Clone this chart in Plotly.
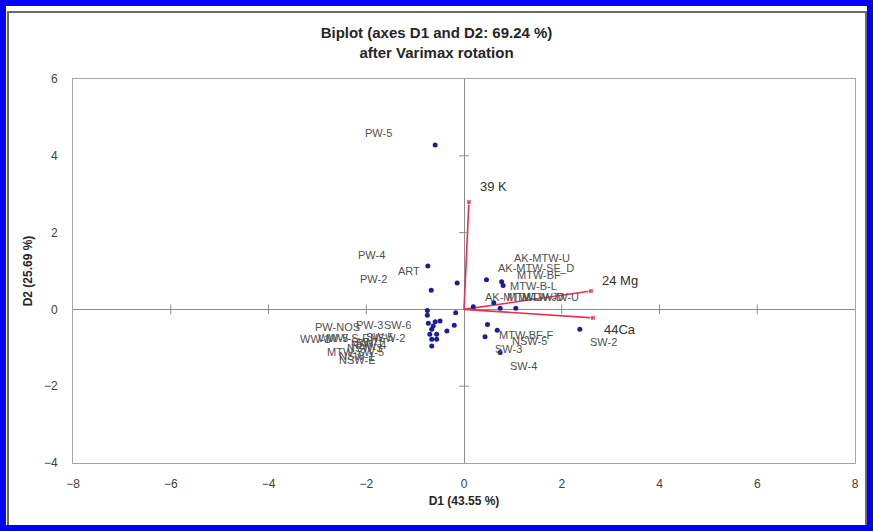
import plotly.graph_objects as go

# ---------------- data ----------------
obs_names = ["PW-5", "PW-4", "ART", "PW-2",
             "PW-3", "PW-NOS", "SW-6", "WW-1", "WW-S-E", "NSW-2", "WW-5", "SW-5",
             "NSW-4", "SW-1", "MTW-SW-5", "NSW-3", "NSW-E", "SW-7", "NSW-1",
             "AK-MTW-SF_D", "MTW-BF", "MTW-B-L", "AK-MTW-L", "MTW-JW-D", "MTW-JW-U", "AK-MTW-U",
             "MTW-BF-F", "NSW-5", "SW-3", "SW-4", "SW-2"]
obs_d1 = [-0.59, -0.74, -0.14, -0.67,
          -0.75, -0.75, -0.17, -0.73, -0.59, -0.49, -0.63, -0.20,
          -0.66, -0.35, -0.56, -0.70, -0.66, -0.56, -0.66,
          0.46, 0.77, 0.80, 0.19, 0.74, 1.06, 0.61,
          0.48, 0.68, 0.43, 0.74, 2.37]
obs_d2 = [4.28, 1.13, 0.69, 0.50,
          -0.03, -0.15, -0.09, -0.36, -0.32, -0.30, -0.43, -0.41,
          -0.52, -0.56, -0.65, -0.65, -0.78, -0.78, -0.95,
          0.77, 0.72, 0.62, 0.07, 0.03, 0.03, 0.17,
          -0.39, -0.54, -0.71, -1.12, -0.52]

var_names = ["39 K", "24 Mg", "44Ca"]
var_d1 = [0.10, 2.60, 2.64]
var_d2 = [2.80, 0.48, -0.22]

x_ticks = [-8, -6, -4, -2, 0, 2, 4, 6, 8]
y_ticks = [-4, -2, 0, 2, 4, 6]

# ---------------- label placement (style, pixels) ----------------
obs_anchor = ["right"] * 19 + ["left"] * 12
obs_dx = [-41, -41, -35, -42,
          -42, -65, -43, -96, -63, -33, -83, -59,
          -44, -62, -51, -46, -55, -57, -56,
          10, 13, 5, 10, 5, 4, 18,
          10, 13, 8, 8, 8]
obs_dy = [-12, -11, -12, -11,
          14, 12, 12, 16, 16, 17, 12, 12,
          16, 12, 18, 14, 21, 3, 10,
          -12, -7, 0, -10, -11, -11, -45,
          11, 11, 12, 14, 13]
var_dx = [9, 9, 9]
var_dy = [-15, -10, 12]

FONT = "Liberation Sans Narrow, Liberation Sans, Arial, sans-serif"
RED = "#e8304a"
PT = "#1c1c9c"

fig = go.Figure()

# variable vectors
for n, x, y in zip(var_names, var_d1, var_d2):
    fig.add_trace(go.Scatter(x=[0, x], y=[0, y], mode="lines+markers",
                             line=dict(color=RED, width=1.6),
                             marker=dict(color=RED, size=[0, 5], symbol="square"),
                             hoverinfo="skip", showlegend=False))

# tick marks on the zero lines
fig.add_trace(go.Scatter(x=[t for t in x_ticks if t not in (-8, 0, 8)],
                         y=[0] * 6, mode="markers",
                         marker=dict(symbol="line-ns", size=7, line=dict(color="#8c8c8c", width=1)),
                         hoverinfo="skip", showlegend=False))
fig.add_trace(go.Scatter(x=[0] * 4, y=[t for t in y_ticks if t not in (-4, 0, 6)],
                         mode="markers",
                         marker=dict(symbol="line-ew", size=7, line=dict(color="#8c8c8c", width=1)),
                         hoverinfo="skip", showlegend=False))

# observations
fig.add_trace(go.Scatter(x=obs_d1, y=obs_d2, mode="markers",
                         marker=dict(color=PT, size=5),
                         text=obs_names, showlegend=False))

annotations = []
for n, x, y, a, dx, dy in zip(obs_names, obs_d1, obs_d2, obs_anchor, obs_dx, obs_dy):
    annotations.append(dict(x=x, y=y, text=n, showarrow=False, xanchor=a, yanchor="middle",
                            xshift=dx, yshift=-dy,
                            font=dict(family=FONT, size=11, color="#505050")))
for n, x, y, dx, dy in zip(var_names, var_d1, var_d2, var_dx, var_dy):
    annotations.append(dict(x=x, y=y, text=n, showarrow=False, xanchor="left", yanchor="middle",
                            xshift=dx, yshift=-dy,
                            font=dict(family=FONT, size=13, color="#303030")))

# geometry helpers (paper coords) for decorative frames
L, R, T, B = 73, 855, 79, 463
W, H = R - L, B - T
def px(xp):
    return (xp - L) / W
def py(yp):
    return (B - yp) / H

shapes = [
    dict(type="rect", xref="paper", yref="paper", x0=px(8), x1=px(866), y0=py(526), y1=py(12),
         line=dict(color="#6a6a6a", width=2), layer="above"),
    dict(type="rect", xref="paper", yref="paper", x0=px(3), x1=px(870), y0=py(528), y1=py(3),
         line=dict(color="#0000ff", width=6), layer="above"),
]

fig.update_layout(
    width=873, height=531,
    margin=dict(l=L, r=873 - R, t=T, b=531 - B),
    paper_bgcolor="white", plot_bgcolor="white",
    font=dict(family=FONT, color="#404040"),
    title=dict(text="<b>Biplot (axes D1 and D2: 69.24 %)<br>after Varimax rotation</b>",
               x=0.5, xref="container", xanchor="center",
               y=1 - 38 / 531, yref="container", yanchor="middle",
               font=dict(family=FONT, size=15, color="#262626")),
    xaxis=dict(range=[-8, 8], tickvals=x_ticks, ticks="", showgrid=False,
               zeroline=True, zerolinecolor="#8c8c8c", zerolinewidth=1,
               showline=True, linecolor="#a6a6a6", linewidth=1, mirror=True,
               ticklabelstandoff=10,
               tickfont=dict(size=12, color="#404040"),
               title=dict(text="<b>D1 (43.55 %)</b>", font=dict(size=12, color="#262626"), standoff=6)),
    yaxis=dict(range=[-4, 6], tickvals=y_ticks, ticks="", showgrid=False,
               zeroline=True, zerolinecolor="#8c8c8c", zerolinewidth=1,
               showline=True, linecolor="#a6a6a6", linewidth=1, mirror=True,
               ticklabelstandoff=12,
               tickfont=dict(size=12, color="#404040"),
               title=dict(text="<b>D2 (25.69 %)</b>", font=dict(size=12, color="#262626"), standoff=8)),
    annotations=annotations,
    shapes=shapes,
)

fig.write_html("out.html")
